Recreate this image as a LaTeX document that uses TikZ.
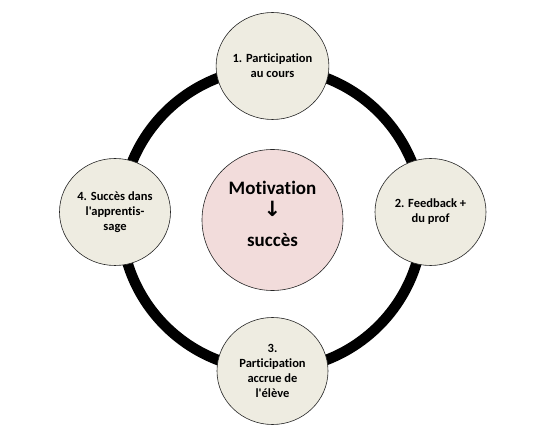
\documentclass[tikz,border=0pt]{standalone}
\usepackage{fontspec}
\setmainfont{Carlito}[Ligatures={TeXOff,CommonOff}]
\newfontfamily\dvfont{DejaVu Sans}
\usetikzlibrary{shapes.geometric}
\definecolor{beige}{HTML}{EEECE1}
\definecolor{pinkc}{HTML}{F2DCDB}
\tikzset{
  stepnode/.style={ellipse, draw=black!85, line width=0.6pt, fill=beige,
    minimum width=111pt, minimum height=107pt, inner sep=0pt, align=center,
    font=\bfseries\fontsize{12.5}{14.8}\selectfont},
  centernode/.style={circle, draw=black!85, line width=0.6pt, fill=pinkc,
    minimum size=141pt, inner sep=0pt},
  centertext/.style={align=center, yshift=6.5pt,
    font=\bfseries\fontsize{19}{24}\selectfont},
  ringline/.style={line width=10.5pt, draw=black}
}
\begin{document}
\begin{tikzpicture}[x=1pt,y=1pt]
\useasboundingbox (0,0) rectangle (540,436);
\coordinate (ringc) at (272,217);
\draw[ringline] (ringc) circle (151);
\node[centernode, label={[centertext]center:{Motivation\\[-2pt]{\dvfont\bfseries\fontsize{21}{21}\selectfont ↓}\\[6pt]succès}}] (center) at (272.5,216) {};
\node[stepnode] (n1) at (272.5,370) {1. Participation\\au cours};
\node[stepnode] (n2) at (430.5,224) {2. Feedback +\\du prof};
\node[stepnode] (n3) at (272.5,65) {3.\\Participation\\accrue de\\l'élève};
\node[stepnode] (n4) at (115,224) {4. Succès dans\\l'apprentis-\\sage};
\end{tikzpicture}
\end{document}
